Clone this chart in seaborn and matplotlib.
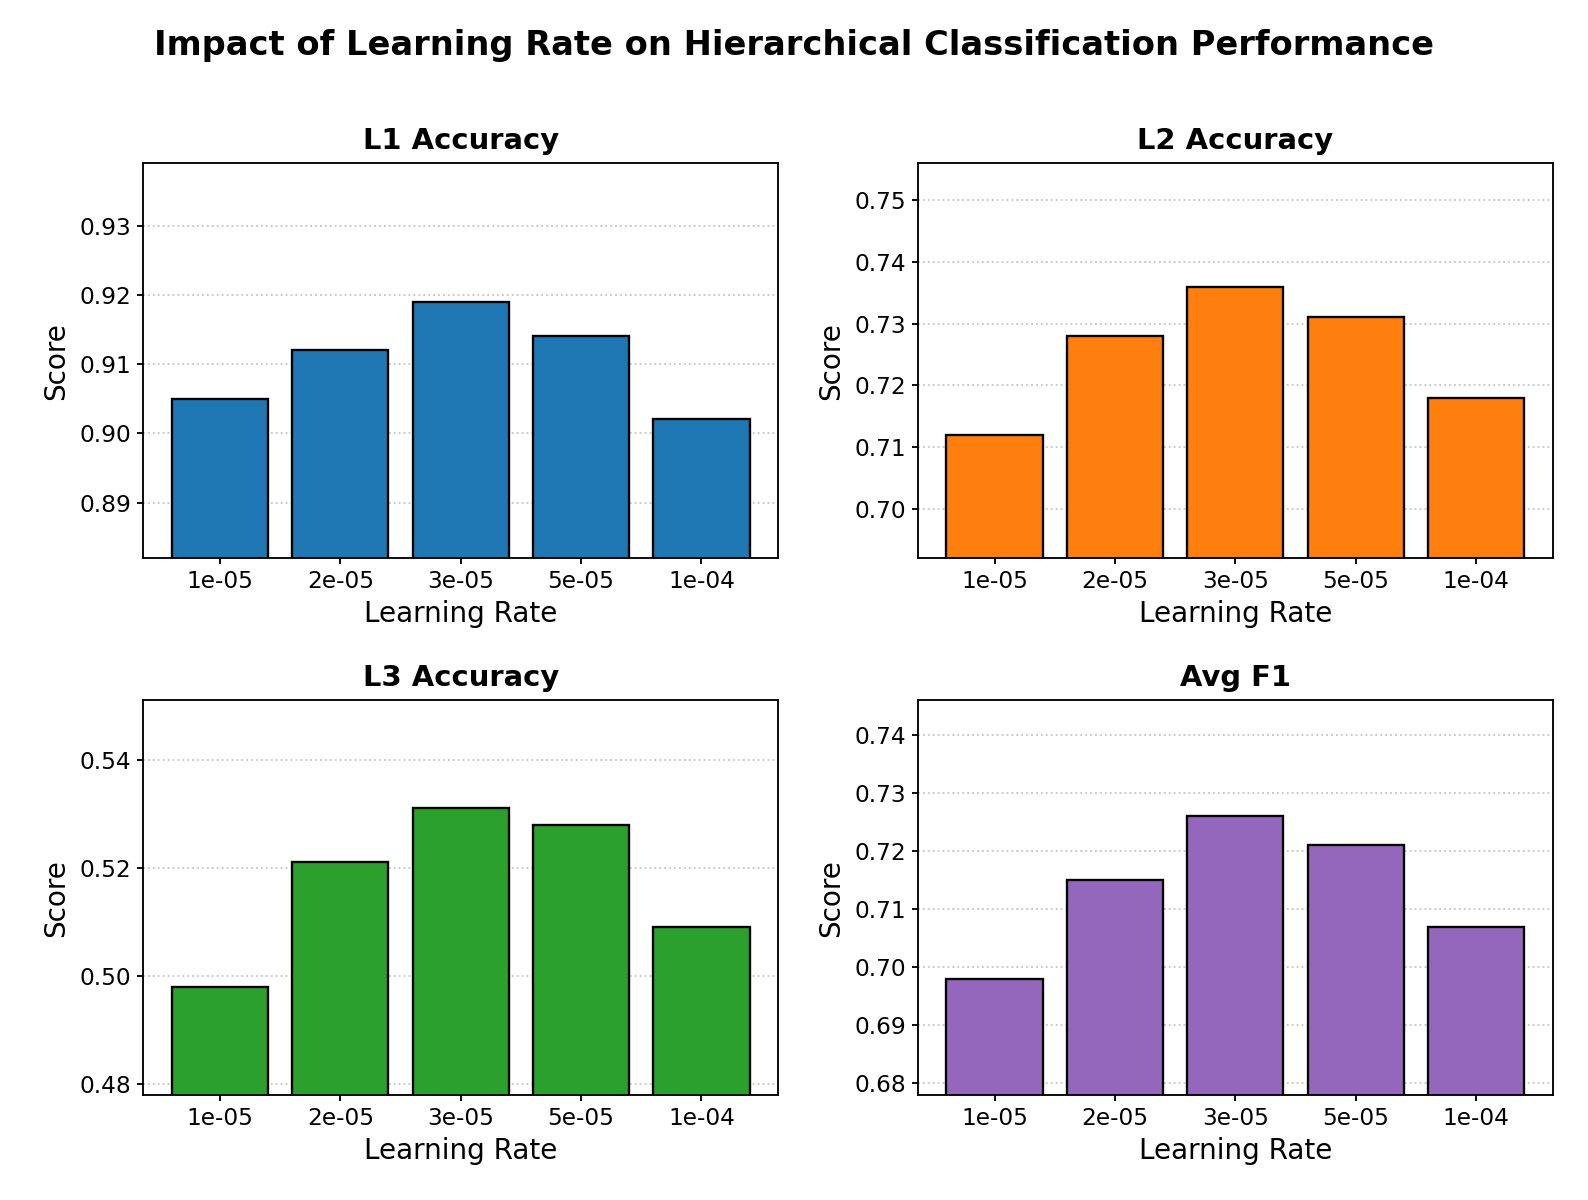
import seaborn as sns
import pandas as pd
import matplotlib.pyplot as plt
import numpy as np
from matplotlib.ticker import MultipleLocator

# learning rates on the x axis
lr_labels = ['1e-05', '2e-05', '3e-05', '5e-05', '1e-04']

# scores
l1_acc = [0.905, 0.912, 0.919, 0.914, 0.902]
l2_acc = [0.712, 0.728, 0.736, 0.731, 0.718]
l3_acc = [0.498, 0.521, 0.531, 0.528, 0.509]
avg_f1 = [0.698, 0.715, 0.726, 0.721, 0.707]

titles = ['L1 Accuracy', 'L2 Accuracy', 'L3 Accuracy', 'Avg F1']
colors = ['#1f77b4', '#ff7f0e', '#2ca02c', '#9467bd']
ytick_steps = [0.01, 0.01, 0.02, 0.01]

DPI = 167
fig, axes = plt.subplots(2, 2, figsize=(1588 / DPI, 1200 / DPI), dpi=DPI)
fig.subplots_adjust(left=0.090, right=0.978, top=0.864, bottom=0.0875,
                    wspace=0.219, hspace=0.36)


def draw_panel(ax, values, title, color, step):
    df = pd.DataFrame({'Learning Rate': lr_labels, 'Score': values})
    sns.barplot(data=df, x='Learning Rate', y='Score', color=color,
                saturation=1, edgecolor='black', linewidth=1.0, width=0.8, ax=ax)
    ax.set_xlim(-0.64, 4.64)
    ax.set_ylim(min(values) - 0.02, max(values) + 0.02)
    ax.yaxis.set_major_locator(MultipleLocator(step))
    ax.set_title(title, fontsize=12.5, fontweight='bold')
    ax.set_xlabel('Learning Rate', fontsize=12, labelpad=3)
    ax.set_ylabel('Score', fontsize=12)
    ax.tick_params(labelsize=10, length=2.5, pad=2.5)
    ax.grid(axis='y', linestyle=':', alpha=0.7)
    ax.set_axisbelow(True)


for ax, vals, t, c, s in zip(axes.flat, [l1_acc, l2_acc, l3_acc, avg_f1],
                             titles, colors, ytick_steps):
    draw_panel(ax, vals, t, c, s)

fig.suptitle('Impact of Learning Rate on Hierarchical Classification Performance',
             fontsize=14.5, fontweight='bold', y=0.976)

plt.savefig('out.png', dpi=DPI)
plt.close()
